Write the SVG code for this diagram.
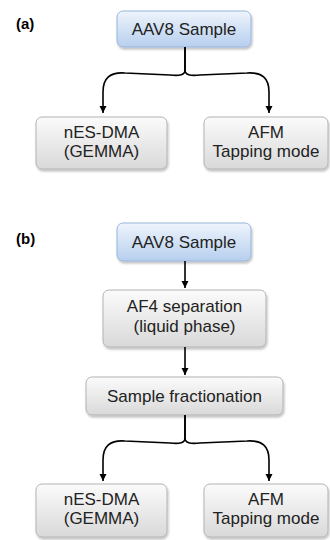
<svg xmlns="http://www.w3.org/2000/svg" width="330" height="540" viewBox="0 0 330 540">
<defs>
<linearGradient id="gGray" x1="0" y1="0" x2="0" y2="1">
<stop offset="0" stop-color="#fbfbfb"/>
<stop offset="1" stop-color="#d9d9d9"/>
</linearGradient>
<linearGradient id="gBlue" x1="0" y1="0" x2="0" y2="1">
<stop offset="0" stop-color="#eef4fc"/>
<stop offset="1" stop-color="#b7cfee"/>
</linearGradient>
<filter id="sh" x="-10%" y="-10%" width="125%" height="135%">
<feDropShadow dx="1" dy="2" stdDeviation="1.2" flood-color="#000" flood-opacity="0.25"/>
</filter>
<marker id="ah" markerWidth="8" markerHeight="8" refX="7" refY="4" orient="auto" markerUnits="userSpaceOnUse">
<path d="M0,0.5 L7,4 L0,7.5 z" fill="#000"/>
</marker>
<style>
.gray{fill:url(#gGray);stroke:#b3b3b3;stroke-width:1;filter:url(#sh)}
.blue{fill:url(#gBlue);stroke:#98b6dc;stroke-width:1;filter:url(#sh)}
.t{font-family:"Liberation Sans",Arial,sans-serif;font-size:17px;fill:#222;text-anchor:middle}
.lbl{font-family:"Liberation Sans",Arial,sans-serif;font-size:15px;font-weight:bold;fill:#000}
.c{fill:none;stroke:#000;stroke-width:1.6;marker-end:url(#ah)}
</style>
</defs>
<text class="lbl" x="16" y="29">(a)</text>
<text class="lbl" x="16" y="244">(b)</text>
<g id="a_aav8"><rect class="blue" x="117" y="11" width="134" height="36" rx="6"/><text class="t" x="184" y="35">AAV8 Sample</text></g>
<g id="a_nes"><rect class="gray" x="36" y="117" width="131" height="52" rx="6"/><text class="t" x="101.5" y="138">nES-DMA</text><text class="t" x="101.5" y="157">(GEMMA)</text></g>
<g id="a_afm"><rect class="gray" x="204" y="117" width="124" height="52" rx="6"/><text class="t" x="266" y="138">AFM</text><text class="t" x="266" y="157">Tapping mode</text></g>
<g id="b_aav8"><rect class="blue" x="117" y="223" width="134" height="38" rx="6"/><text class="t" x="184" y="248">AAV8 Sample</text></g>
<g id="b_af4"><rect class="gray" x="103" y="290" width="163" height="57" rx="6"/><text class="t" x="184.5" y="312">AF4 separation</text><text class="t" x="184.5" y="332">(liquid phase)</text></g>
<g id="b_frac"><rect class="gray" x="86" y="377" width="197" height="38" rx="6"/><text class="t" x="184.5" y="402">Sample fractionation</text></g>
<g id="b_nes"><rect class="gray" x="36" y="484" width="131" height="53" rx="6"/><text class="t" x="101.5" y="505">nES-DMA</text><text class="t" x="101.5" y="524">(GEMMA)</text></g>
<g id="b_afm"><rect class="gray" x="204" y="484" width="124" height="53" rx="6"/><text class="t" x="266" y="505">AFM</text><text class="t" x="266" y="524">Tapping mode</text></g>
<g id="connectors">
<path class="c" d="M185,47 L185,70 C185,75 180,76 170,75 L125,73 C110,72 103,78 103,92 L103,113"/>
<path class="c" d="M185,47 L185,70 C185,75 190,76 200,75 L247,73 C262,72 269,78 269,92 L269,113"/>
<path class="c" d="M185,261 L185,288"/>
<path class="c" d="M185,347 L185,375"/>
<path class="c" d="M185,415 L185,438 C185,443 180,444 170,443 L125,441 C110,440 103,446 103,460 L103,481"/>
<path class="c" d="M185,415 L185,438 C185,443 190,444 200,443 L247,441 C262,440 269,446 269,460 L269,481"/>
</g>
</svg>
